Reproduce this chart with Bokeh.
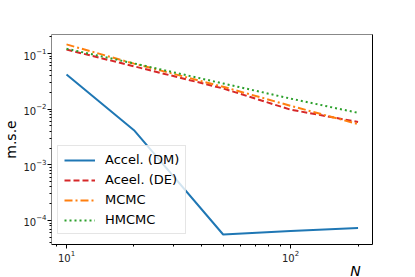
from bokeh.plotting import figure
from bokeh.models import (FixedTicker, LogTickFormatter, LinearAxis, Legend, LegendItem)
from bokeh.embed import file_html
from bokeh.resources import INLINE

N = [10, 20, 50, 100, 200]
accel_dm = [0.042, 0.0042, 5.6e-5, 6.5e-5, 7.3e-5]
accel_de = [0.118, 0.059, 0.0236, 0.0098, 0.0059]
mcmc = [0.146, 0.066, 0.0253, 0.0115, 0.0054]
hmcmc = [0.122, 0.0665, 0.029, 0.0155, 0.0086]

x_major = [10, 100]
x_minor = [9, 20, 30, 40, 50, 60, 70, 80, 90, 200]
y_major = [1e-4, 1e-3, 1e-2, 1e-1]
y_minor = [m * 10.0 ** e for e in range(-5, 0) for m in range(2, 10)]

FONT = "DejaVu Sans"

p = figure(width=400, height=268, x_axis_type="log", y_axis_type="log",
           x_range=(8.57, 232), y_range=(3.7e-5, 0.22),
           output_backend="svg", toolbar_location=None,
           frame_width=321, frame_height=210,
           min_border_left=44, min_border_right=35, min_border_top=34, min_border_bottom=0)
p.outline_line_color = None
p.xgrid.visible = False
p.ygrid.visible = False
p.background_fill_color = "white"

r1 = p.line(N, accel_dm, line_color="#1f77b4", line_width=2)
r2 = p.line(N, accel_de, line_color="#d62728", line_width=2, line_dash="6 3")
r3 = p.line(N, mcmc, line_color="#ff7f0e", line_width=2, line_dash="8 3 2 3")
r4 = p.line(N, hmcmc, line_color="#2ca02c", line_width=2, line_dash="2 3")

for ax, maj, mnr in ((p.xaxis[0], x_major, x_minor), (p.yaxis[0], y_major, y_minor)):
    ax.ticker = FixedTicker(ticks=maj, minor_ticks=mnr)
    ax.formatter = LogTickFormatter()
    ax.major_label_text_font = FONT
    ax.major_label_text_font_size = "10px"
    ax.major_label_text_color = "#222222"
    ax.major_tick_in = 0
    ax.major_tick_out = 4
    ax.minor_tick_in = 0
    ax.minor_tick_out = 2
    ax.major_label_standoff = 1

p.xaxis[0].axis_line_color = "black"
p.yaxis[0].axis_line_color = "#888888"
p.yaxis[0].axis_label = "m.s.e"
p.yaxis[0].axis_label_text_font = FONT
p.yaxis[0].axis_label_text_font_size = "14px"
p.yaxis[0].axis_label_text_font_style = "normal"
p.yaxis[0].axis_label_text_color = "black"
p.yaxis[0].axis_label_standoff = 1

top = LinearAxis(ticker=FixedTicker(ticks=[]), axis_line_color="#888888",
                 major_label_text_font_size="0px", major_tick_out=0, minor_tick_out=0)
right = LinearAxis(ticker=FixedTicker(ticks=[]), axis_line_color="black",
                   major_label_text_font_size="0px", major_tick_out=0, minor_tick_out=0)
p.add_layout(top, "above")
p.add_layout(right, "right")

# x-axis label "N" at the lower right, as a label-only axis stacked below the x axis
n_axis = LinearAxis(ticker=FixedTicker(ticks=[195], minor_ticks=[]),
                    major_label_overrides={195: "N"},
                    axis_line_color=None, major_tick_line_color=None,
                    minor_tick_line_color=None, major_tick_out=0, minor_tick_out=0,
                    major_label_standoff=-2,
                    major_label_text_font=FONT, major_label_text_font_size="14px",
                    major_label_text_font_style="italic", major_label_text_color="black")
p.add_layout(n_axis, "below")

legend = Legend(items=[
    LegendItem(label="Accel. (DM)", renderers=[r1]),
    LegendItem(label="Aceel. (DE)", renderers=[r2]),
    LegendItem(label="MCMC", renderers=[r3]),
    LegendItem(label="HMCMC", renderers=[r4]),
], location=(6, 10))
legend.label_text_font = FONT
legend.label_text_font_size = "13px"
legend.label_text_color = "black"
legend.glyph_width = 31
legend.glyph_height = 14
legend.label_height = 14
legend.spacing = 5
legend.label_standoff = 10
legend.padding = 6
legend.margin = 0
legend.border_line_color = "#cccccc"
legend.background_fill_alpha = 0.8
p.add_layout(legend, "center")

open("out.html", "w").write(file_html(p, INLINE))
